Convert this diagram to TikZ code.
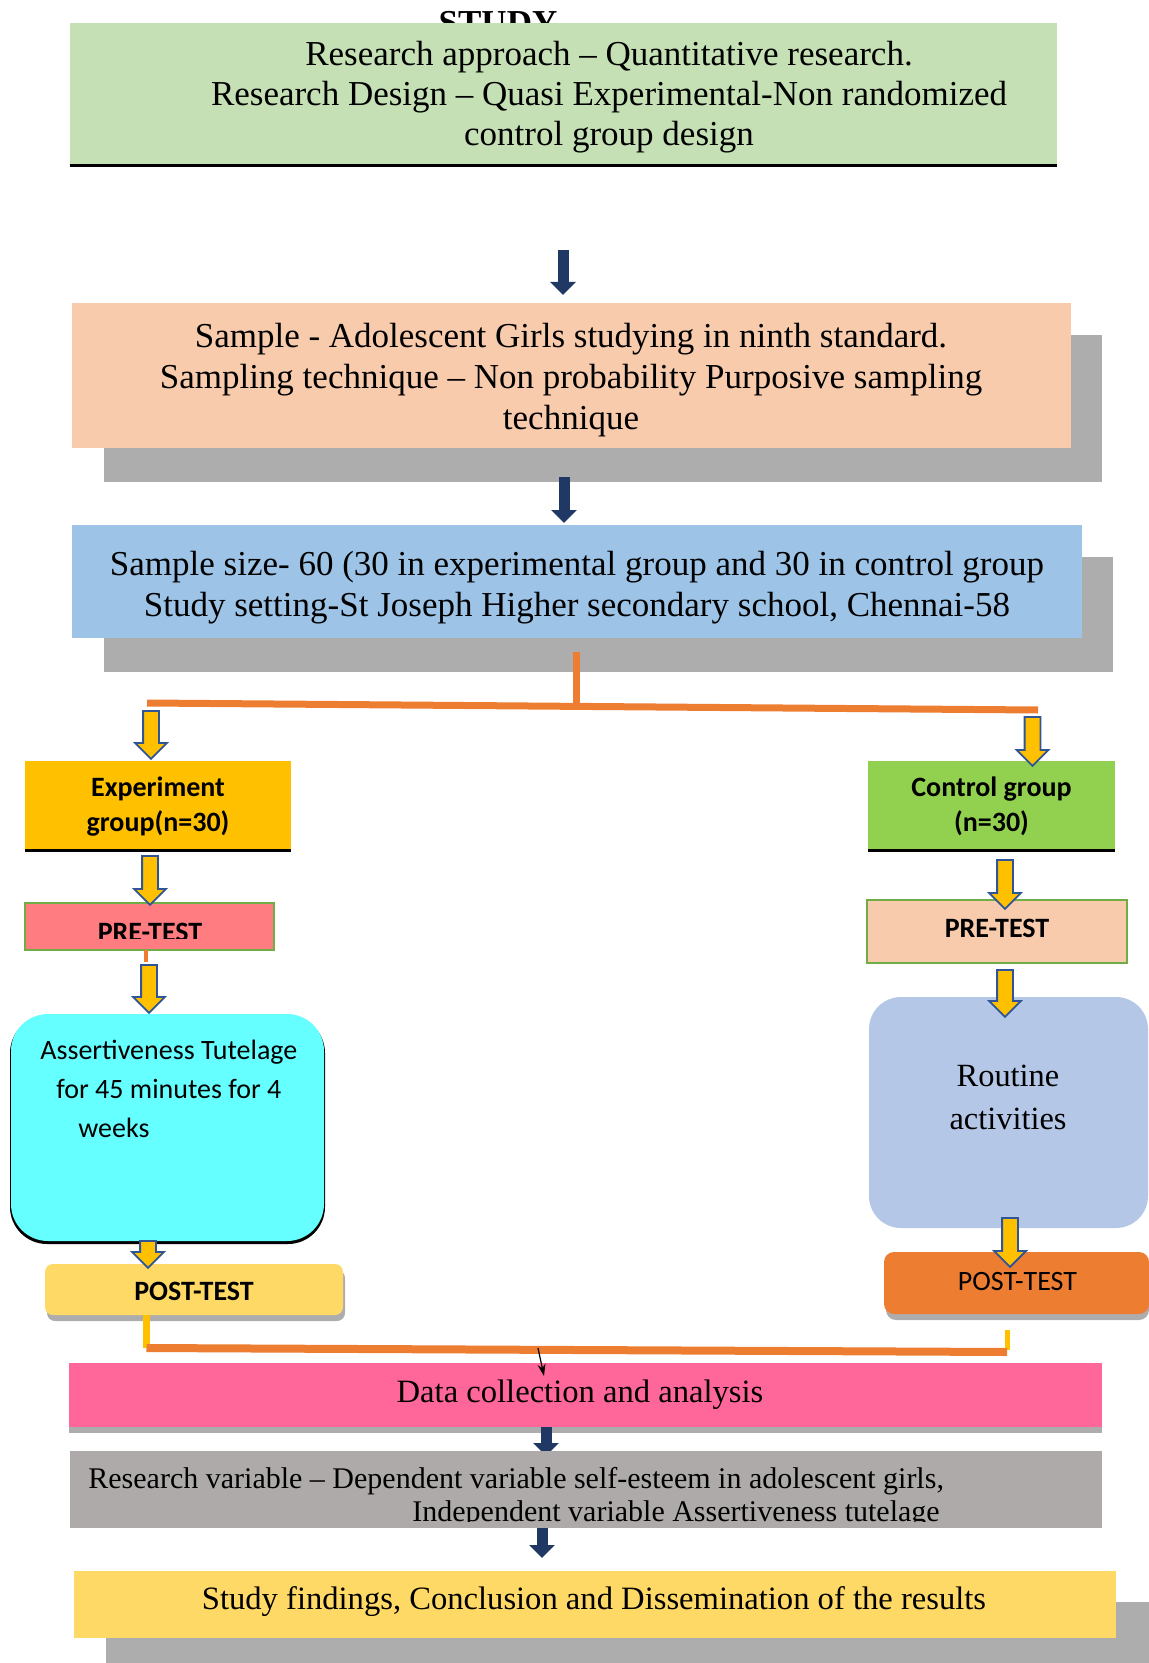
\documentclass[tikz,border=0pt]{standalone}
\usepackage{fontspec}
\setmainfont{Liberation Serif}
\newfontfamily\calibri{Carlito}
\usetikzlibrary{shapes.arrows,arrows.meta}

\definecolor{greenbox}{HTML}{C5E0B4}
\definecolor{peachbox}{HTML}{F8CBAD}
\definecolor{bluebox}{HTML}{9DC3E6}
\definecolor{goldbox}{HTML}{FFC000}
\definecolor{limebox}{HTML}{92D050}
\definecolor{salmonbox}{HTML}{FF7C80}
\definecolor{cyanbox}{HTML}{66FFFF}
\definecolor{lavbox}{HTML}{B4C7E7}
\definecolor{sandbox}{HTML}{FFD966}
\definecolor{orangebox}{HTML}{ED7D31}
\definecolor{pinkbox}{HTML}{FF6699}
\definecolor{greybox}{HTML}{AEAAAA}
\definecolor{navy}{HTML}{203864}
\definecolor{arrowedge}{HTML}{2F5597}
\definecolor{shadowgrey}{HTML}{ADADAD}
\definecolor{framegreen}{HTML}{70AD47}

\newcommand\serifbig{\fontsize{17.5}{20.5}\selectfont}
\newcommand\serifmid{\fontsize{16.3}{20}\selectfont}
\newcommand\serifsmall{\fontsize{15}{17}\selectfont}
\newcommand\calbold{\calibri\bfseries\fontsize{14}{17.5}\selectfont}
\newcommand\calreg{\calibri\fontsize{14}{19.5}\selectfont}

\tikzset{
  block/.style={rectangle,inner sep=0pt},
  navyarr/.style={draw=navy,line width=5.5pt,-{Triangle[width=12.5pt,length=6.5pt]}},
  yarr/.style={single arrow,draw=arrowedge,fill=goldbox,line width=0.9pt,inner xsep=0pt,
    inner ysep=3.5pt,single arrow head extend=4pt,rotate=-90},
  orangeline/.style={draw=orangebox,line width=3.5pt},
  yellowline/.style={draw=goldbox,line width=3.5pt}
}

\begin{document}
\begin{tikzpicture}[x=0.5pt,y=-0.5pt]
\useasboundingbox (0,0) rectangle (1149,1663);

% design
\node[anchor=base,font=\bfseries\serifbig] (studyhead) at (498,35) {STUDY};
\node[block,fill=greenbox,minimum width=493.5pt,minimum height=71pt] (design) at (563.5,94) {};
\draw[line width=1.2pt] (design.south west) -- (design.south east);
\node[align=center,font=\fontsize{17.5}{20}\selectfont] (designtxt) at (609,97) {Research approach – Quantitative research.\\ Research Design – Quasi Experimental-Non randomized\\ control group design};

\coordinate (n1top) at (563,250);
\coordinate (n1tip) at (563,295);
\draw[navyarr] (n1top) -- (n1tip);

% sample
\fill[shadowgrey] (104,335) rectangle (1102,482);
\node[block,fill=peachbox,minimum width=499.5pt,minimum height=72.5pt] (sample) at (571.5,375.5) {};
\node[align=center,font=\serifbig] (sampletxt) at (571,380.5) {Sample - Adolescent Girls studying in ninth standard.\\ Sampling technique – Non probability Purposive sampling\\ technique};

\coordinate (n2top) at (564,477);
\coordinate (n2tip) at (564,523);
\draw[navyarr] (n2top) -- (n2tip);

% size and setting
\fill[shadowgrey] (104,557) rectangle (1113,672);
\node[block,fill=bluebox,minimum width=505pt,minimum height=56.5pt] (size) at (577,581.5) {};
\node[align=center,font=\serifbig] (sizetxt) at (577,587.5) {Sample size- 60 (30 in experimental group and 30 in control group\\ Study setting-St Joseph Higher secondary school, Chennai-58};

% split
\coordinate (splitA) at (576,652);
\coordinate (splitB) at (576,706.5);
\coordinate (splitL) at (147,703);
\coordinate (splitR) at (1038,710);
\draw[orangeline] (splitA) -- (splitB);
\draw[orangeline] (splitL) -- (splitR);

% groups
\node[block,fill=goldbox,minimum width=133pt,minimum height=44.5pt] (expgroup) at (158,805.5) {};
\draw[line width=1.3pt] (expgroup.south west) -- (expgroup.south east);
\node[align=center,font=\calbold] (expgrouptxt) at (158,807) {Experiment\\ group(n=30)};
\node[block,fill=limebox,minimum width=123.5pt,minimum height=44.5pt] (ctrlgroup) at (991.5,805.5) {};
\draw[line width=1.3pt] (ctrlgroup.south west) -- (ctrlgroup.south east);
\node[align=center,font=\calbold] (ctrlgrouptxt) at (991.5,806) {Control group\\ (n=30)};

% pre-tests
\node[block,fill=salmonbox,draw=framegreen,line width=1pt,minimum width=124.5pt,minimum height=23.5pt] (exppre) at (149.5,926.5) {};
\begin{scope}
\clip (25,903) rectangle (274,938);
\node[anchor=base,font=\calbold] (exppretxt) at (150,941) {PRE-TEST};
\end{scope}
\node[block,fill=peachbox,draw=framegreen,line width=1pt,minimum width=130pt,minimum height=31.5pt] (ctrlpre) at (997,931.5) {};
\node[anchor=base,font=\calbold] (ctrlpretxt) at (997,937) {PRE-TEST};
\coordinate (expprelink) at (146,962);
\draw[draw=orangebox,line width=2pt] (146,950) -- (expprelink);

% interventions
\fill[black,rounded corners=18.5pt] (10,1016) rectangle (325,1244);
\node[block,fill=cyanbox,rounded corners=18.5pt,minimum width=156.5pt,minimum height=113.5pt] (tutelage) at (167.5,1127.5) {};
\node[anchor=north west,inner sep=0pt,align=left,font=\calreg] (tutelagetxt) at (40,1040) {Assertiveness Tutelage\\ \hspace*{8pt}for 45 minutes for 4\\ \hspace*{19pt}weeks};
\node[block,fill=lavbox,rounded corners=16pt,minimum width=139.5pt,minimum height=115.5pt] (routine) at (1008.5,1112.5) {};
\node[align=center,font=\fontsize{16.2}{21.5}\selectfont] (routinetxt) at (1008,1097.5) {Routine\\ activities};

% post-tests
\fill[shadowgrey,rounded corners=4pt] (47,1270) rectangle (345,1321);
\node[block,fill=sandbox,rounded corners=4pt,minimum width=149pt,minimum height=25.5pt] (exppost) at (194,1289.5) {};
\node[anchor=base,font=\calbold] (expposttxt) at (194,1300) {POST-TEST};
\fill[shadowgrey,rounded corners=5pt] (886,1258) rectangle (1149,1320);
\node[block,fill=orangebox,rounded corners=5pt,minimum width=132.5pt,minimum height=31pt] (ctrlpost) at (1016.5,1283) {};
\node[anchor=base,font=\calibri\fontsize{14}{17}\selectfont] (ctrlposttxt) at (1017.5,1290) {POST-TEST};

% block arrows
\node[yarr,minimum height=24pt] (ea1) at (151,731) {};
\node[yarr,minimum height=24.5pt] (ca1) at (1032.5,737.5) {};
\node[yarr,minimum height=24.5pt] (ea2) at (150,876.5) {};
\node[yarr,minimum height=24.5pt] (ca2) at (1005,880.5) {};
\node[yarr,minimum height=24pt] (ea3) at (149,985) {};
\node[yarr,minimum height=23.5pt] (ca3) at (1005,989.5) {};
\node[yarr,minimum height=13.5pt] (ea4) at (148,1250.5) {};
\node[yarr,minimum height=24.5pt] (ca4) at (1010,1238.5) {};

% merge
\coordinate (mergeL) at (146.5,1348);
\coordinate (mergeR) at (1007,1352);
\draw[yellowline] (exppost.south -| mergeL) -- (mergeL);
\draw[draw=goldbox,line width=2.5pt] (1007,1330) -- (1007,1350);
\draw[draw=orangebox,line width=4pt] (mergeL) -- (mergeR);

% analysis
\fill[shadowgrey] (69,1369) rectangle (1102,1433);
\node[block,fill=pinkbox,minimum width=516.5pt,minimum height=32pt] (analysis) at (585.5,1395) {};
\node[anchor=base,font=\serifmid] (analysistxt) at (580,1402) {Data collection and analysis};
\coordinate (mergeA) at (538,1348);
\coordinate (mergeB) at (544,1376);
\draw[line width=0.6pt,-{Stealth[length=6pt,width=4pt]}] (mergeA) -- (mergeB);

\coordinate (n3top) at (546,1427);
\coordinate (n3tip) at (546,1456);
\draw[navyarr] (n3top) -- (n3tip);

% variables
\node[block,fill=greybox,minimum width=516pt,minimum height=38.5pt] (variables) at (586,1489.5) {};
\node[anchor=base west,inner sep=0pt,font=\serifsmall] (variablestxt) at (88,1488) {Research variable – Dependent variable self-esteem in adolescent girls,};
\begin{scope}
\clip (70,1495) rectangle (1102,1521);
\node[anchor=base west,inner sep=0pt,font=\serifsmall] (variablestxtb) at (412,1521) {Independent variable Assertiveness tutelage};
\end{scope}

\coordinate (n4top) at (542,1528);
\coordinate (n4tip) at (542,1558);
\draw[navyarr] (n4top) -- (n4tip);

% findings
\fill[shadowgrey] (106,1602) rectangle (1149,1663);
\node[block,fill=sandbox,minimum width=521pt,minimum height=33.5pt] (findings) at (595,1604.5) {};
\node[anchor=base,font=\serifmid] (findingstxt) at (594,1609.5) {Study findings, Conclusion and Dissemination of the results};
\end{tikzpicture}
\end{document}
